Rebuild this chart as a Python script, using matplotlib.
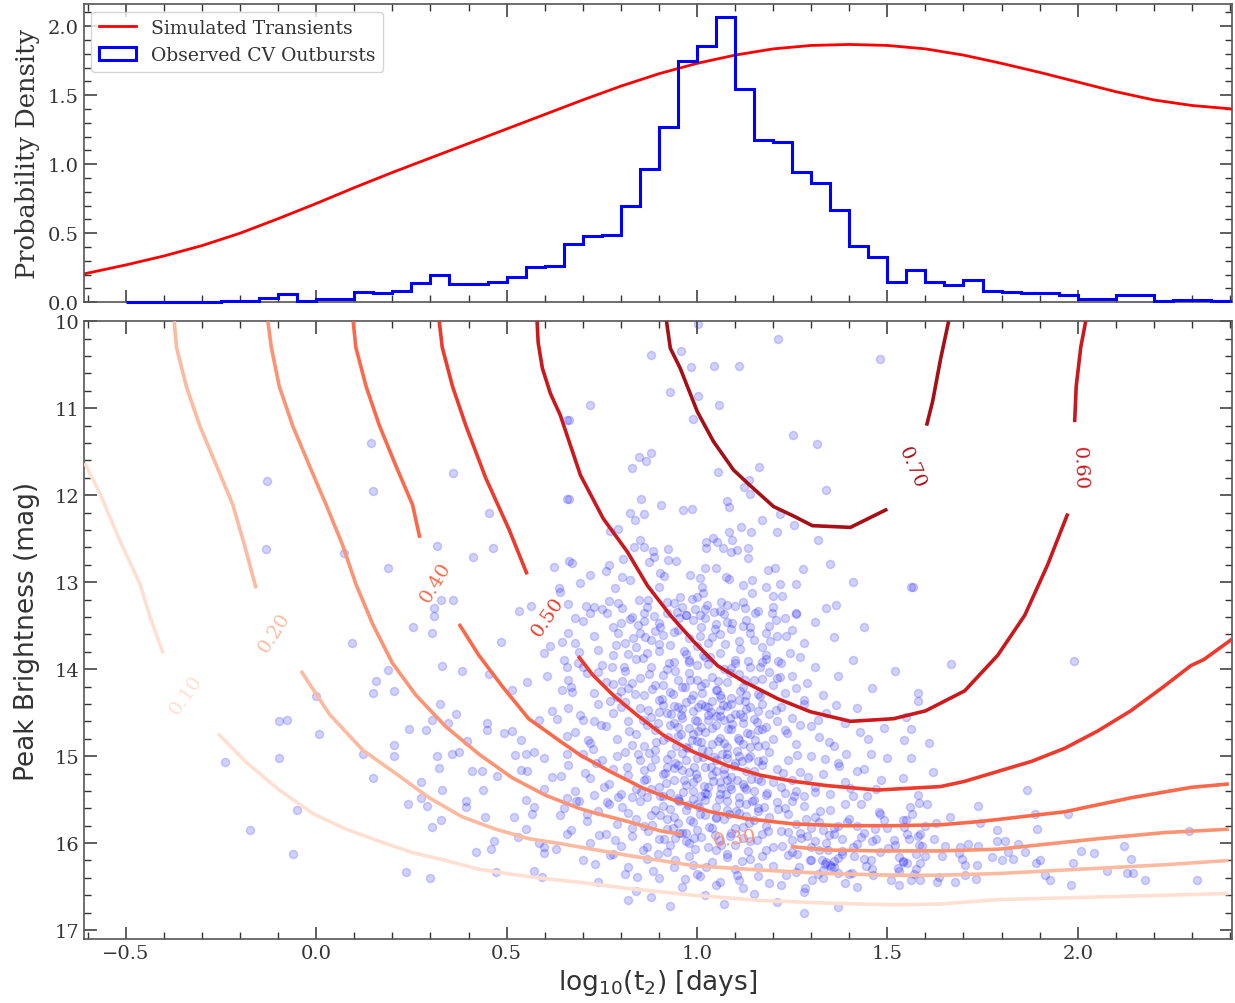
import numpy as np
import matplotlib
matplotlib.use("Agg")
import matplotlib.pyplot as plt
from matplotlib.ticker import MultipleLocator

plt.rcParams['font.family'] = ['DejaVu Serif']

# --- top panel data ---
sim_x = [-0.61, -0.5, -0.4, -0.3, -0.2, -0.1, 0.0, 0.1, 0.2, 0.3, 0.4, 0.5, 0.6, 0.7, 0.8,
         0.9, 1.0, 1.1, 1.2, 1.3, 1.4, 1.5, 1.6, 1.7, 1.8, 1.9, 2.0, 2.1, 2.2, 2.3, 2.405]
sim_y = [0.205, 0.27, 0.335, 0.41, 0.50, 0.605, 0.715, 0.83, 0.94, 1.045, 1.15, 1.255, 1.36,
         1.465, 1.565, 1.655, 1.73, 1.79, 1.835, 1.86, 1.867, 1.86, 1.835, 1.79, 1.73, 1.665,
         1.595, 1.525, 1.465, 1.425, 1.40]

hist_start = -0.5
hist_width = 0.05
hist_heights = [0.004, 0.004, 0.004, 0.004, 0.004,
                0.012, 0.012, 0.03, 0.058, 0.012, 0.024, 0.024, 0.075, 0.065, 0.08,
                0.14, 0.20, 0.13, 0.13, 0.15, 0.18, 0.256, 0.265, 0.42, 0.48,
                0.49, 0.695, 0.966, 1.27, 1.746, 1.857, 2.065, 1.546, 1.174, 1.164,
                0.946, 0.864, 0.667, 0.41, 0.33, 0.145, 0.234, 0.147, 0.128, 0.162,
                0.084, 0.075, 0.065, 0.065, 0.055, 0.024, 0.024, 0.05, 0.05, 0.01,
                0.017, 0.017, 0.01]

# --- contour lines (log t2, mag), split where labels sit ---
c10_a = [(-0.608, 11.63), (-0.568, 11.98), (-0.516, 12.52), (-0.463, 13.02), (-0.435, 13.42), (-0.402, 13.82)]
c10_b = [(-0.258, 14.74), (-0.184, 15.07), (-0.097, 15.39), (-0.009, 15.66), (0.078, 15.84), (0.166, 15.98),
         (0.253, 16.11), (0.340, 16.20), (0.427, 16.30), (0.515, 16.36), (0.602, 16.41), (0.690, 16.45),
         (0.816, 16.52), (0.991, 16.60), (1.167, 16.66), (1.342, 16.69), (1.517, 16.71), (1.640, 16.70),
         (1.791, 16.65), (2.052, 16.62), (2.396, 16.58)]
c20_a = [(-0.373, 10.0), (-0.367, 10.30), (-0.341, 10.75), (-0.306, 11.20), (-0.262, 11.66),
         (-0.219, 12.11), (-0.188, 12.58), (-0.158, 13.07)]
c20_b = [(-0.040, 14.02), (0.035, 14.52), (0.122, 14.93), (0.209, 15.20), (0.297, 15.48), (0.384, 15.70),
         (0.471, 15.84), (0.559, 15.95), (0.646, 16.01), (0.816, 16.14), (0.991, 16.26), (1.167, 16.31),
         (1.342, 16.35), (1.517, 16.37), (1.640, 16.37), (1.791, 16.35), (2.052, 16.29), (2.226, 16.25),
         (2.396, 16.20)]
c30_a = [(-0.127, 10.0), (-0.118, 10.30), (-0.097, 10.75), (-0.062, 11.20), (-0.018, 11.66), (0.026, 12.11),
         (0.069, 12.57), (0.104, 13.02), (0.148, 13.48), (0.200, 13.93), (0.262, 14.30), (0.340, 14.66),
         (0.428, 14.98), (0.515, 15.25), (0.602, 15.45), (0.690, 15.60), (0.728, 15.65), (0.817, 15.75),
         (0.904, 15.86), (0.961, 15.90)]
c30_b = [(1.246, 16.04), (1.343, 16.08), (1.474, 16.09), (1.640, 16.09), (1.792, 16.07), (2.053, 15.95),
         (2.226, 15.88), (2.397, 15.84)]
c40_a = [(0.097, 10.0), (0.104, 10.30), (0.131, 10.75), (0.166, 11.20), (0.209, 11.66), (0.253, 12.11),
         (0.272, 12.49)]
c40_b = [(0.375, 13.48), (0.427, 13.84), (0.489, 14.20), (0.558, 14.57), (0.641, 14.83), (0.694, 14.99),
         (0.773, 15.18), (0.859, 15.37), (0.948, 15.52), (1.035, 15.64), (1.132, 15.72), (1.253, 15.78),
         (1.385, 15.80), (1.516, 15.80), (1.640, 15.79), (1.748, 15.75), (1.966, 15.64), (2.139, 15.48),
         (2.297, 15.36), (2.397, 15.32)]
c50_a = [(0.323, 10.0), (0.331, 10.30), (0.358, 10.75), (0.393, 11.20), (0.445, 11.80), (0.506, 12.39),
         (0.554, 12.91)]
c50_b = [(0.688, 13.85), (0.727, 14.07), (0.780, 14.30), (0.843, 14.53), (0.912, 14.76), (0.990, 14.95),
         (1.080, 15.11), (1.167, 15.22), (1.254, 15.29), (1.343, 15.34), (1.474, 15.39), (1.640, 15.35),
         (1.703, 15.29), (1.879, 15.06), (1.966, 14.91), (2.053, 14.71), (2.139, 14.48), (2.226, 14.20),
         (2.297, 13.96), (2.331, 13.89), (2.407, 13.65)]
c60_a = [(0.580, 10.0), (0.583, 10.25), (0.594, 10.54), (0.615, 10.83), (0.641, 11.08), (0.694, 11.77),
         (0.754, 12.27), (0.817, 12.65), (0.870, 13.04), (0.930, 13.38), (0.991, 13.68), (1.054, 13.96),
         (1.122, 14.14), (1.212, 14.34), (1.298, 14.49), (1.403, 14.60), (1.516, 14.57), (1.600, 14.48),
         (1.703, 14.25), (1.790, 13.84), (1.861, 13.38), (1.921, 12.80), (1.974, 12.21)]
c60_b = [(1.992, 11.16), (1.996, 10.75), (2.008, 10.30), (2.021, 10.0)]
c70_a = [(0.920, 10.0), (0.930, 10.31), (0.956, 10.54), (1.001, 11.04), (1.043, 11.38), (1.096, 11.71),
         (1.140, 11.89), (1.201, 12.13), (1.254, 12.24), (1.303, 12.35), (1.403, 12.37), (1.500, 12.16)]
c70_b = [(1.603, 11.20), (1.619, 10.92), (1.640, 10.43), (1.661, 10.0)]

levels = [0.1, 0.2, 0.3, 0.4, 0.5, 0.6, 0.7]
label_x = [-0.341, -0.110, 1.100, 0.314, 0.607, 2.005, 1.563]
label_y = [14.29, 13.57, 15.95, 13.00, 13.39, 11.68, 11.68]
label_rot = [55, 57, 7, 59, 56, -88, -67]

# --- observed CV outbursts (log t2, mag) ---
pts_left = [(0.659, 11.14), (0.144, 11.40), (-0.129, 11.84), (0.148, 11.95), (0.359, 11.75), (0.659, 12.04),
            (0.454, 12.20), (-0.133, 12.62), (0.072, 12.67), (0.318, 12.58), (0.465, 12.61), (0.412, 12.71),
            (0.665, 12.76), (0.189, 12.84), (0.624, 12.83), (0.327, 13.20), (0.358, 13.20), (0.310, 13.30),
            (0.310, 13.39), (0.532, 13.33), (0.563, 13.27), (0.637, 13.07), (0.253, 13.52), (0.305, 13.58),
            (0.484, 13.69), (0.662, 13.59), (0.646, 13.69), (0.615, 13.73), (0.598, 13.81), (0.094, 13.70),
            (0.331, 13.96), (0.384, 14.02), (0.454, 14.06), (0.659, 13.98), (0.607, 14.08), (0.189, 14.01),
            (0.157, 14.14), (0.148, 14.27), (0.205, 14.25), (0.515, 14.24), (0.554, 14.15), (0.646, 14.24),
            (0.000, 14.31), (0.325, 14.40), (0.366, 14.51), (0.303, 14.59), (0.345, 14.62), (0.449, 14.62),
            (0.585, 14.59), (0.620, 14.48), (0.633, 14.57), (-0.097, 14.60), (-0.077, 14.59), (0.007, 14.74),
            (0.244, 14.69), (0.288, 14.70), (0.449, 14.70), (0.493, 14.73), (0.515, 14.71), (0.539, 14.82),
            (0.659, 14.77), (0.205, 14.87), (0.397, 14.83), (-0.099, 15.02), (-0.239, 15.07), (0.124, 14.98),
            (0.205, 15.00), (0.318, 15.00), (0.356, 14.97), (0.375, 14.95), (0.522, 14.99), (0.550, 14.97),
            (0.572, 14.95), (0.598, 15.02), (0.659, 14.97), (0.323, 15.14), (0.410, 15.17), (0.436, 15.17),
            (0.476, 15.23), (0.537, 15.16), (0.554, 15.17), (0.620, 15.24), (0.642, 15.23), (0.148, 15.25),
            (0.275, 15.30), (0.330, 15.39), (0.439, 15.39), (0.598, 15.38), (0.659, 15.48), (0.240, 15.55),
            (0.275, 15.48), (0.292, 15.57), (0.393, 15.52), (0.393, 15.58), (0.550, 15.51), (0.572, 15.59),
            (0.519, 15.70), (0.567, 15.67), (0.443, 15.70), (0.640, 15.68), (0.329, 15.73), (0.303, 15.81),
            (0.550, 15.84), (0.659, 15.89), (-0.050, 15.62), (-0.175, 15.85), (0.467, 15.98), (0.530, 15.93),
            (0.585, 16.00), (0.598, 16.04), (0.629, 16.07), (0.598, 16.11), (0.419, 16.10), (0.458, 16.07),
            (-0.062, 16.12), (0.235, 16.33), (0.298, 16.40), (0.473, 16.33), (0.572, 16.32), (0.593, 16.39)]

pts_top = [(1.004, 10.03), (1.213, 10.20), (1.480, 10.43), (0.879, 10.39), (0.959, 10.34), (0.985, 10.53),
           (1.046, 10.51), (1.111, 10.51), (0.928, 10.81), (1.004, 10.86), (1.058, 10.96), (0.720, 10.96),
           (0.663, 11.14), (0.990, 11.12), (1.252, 11.31), (1.316, 11.41), (0.849, 11.56), (0.879, 11.51),
           (0.867, 11.61), (0.829, 11.69), (1.054, 11.73), (1.164, 11.67), (1.137, 11.83), (1.123, 11.91),
           (1.138, 11.99), (1.338, 11.94), (0.663, 12.04), (0.853, 12.04), (0.906, 12.11), (0.962, 12.17),
           (0.987, 12.16), (1.079, 12.07), (1.083, 12.13), (0.825, 12.20), (0.860, 12.22), (0.838, 12.28),
           (1.171, 12.29), (1.217, 12.22), (1.254, 12.34), (1.115, 12.36), (1.141, 12.42), (1.210, 12.42),
           (1.083, 12.42), (0.792, 12.39), (0.771, 12.41), (1.042, 12.49), (1.053, 12.54), (1.024, 12.54),
           (1.092, 12.51), (1.318, 12.51), (0.851, 12.52), (0.860, 12.59), (0.834, 12.60), (0.884, 12.64),
           (0.924, 12.62), (1.024, 12.61), (1.069, 12.61), (1.090, 12.65), (1.105, 12.63), (1.134, 12.61),
           (1.133, 12.72), (0.807, 12.73), (0.873, 12.77), (0.886, 12.71), (0.924, 12.74), (0.945, 12.76),
           (0.672, 12.78), (0.770, 12.80), (0.761, 12.87), (1.020, 12.84), (1.049, 12.84), (1.186, 12.86),
           (1.206, 12.84), (1.278, 12.85), (1.349, 12.79), (1.410, 13.00), (1.567, 13.05), (0.720, 12.92),
           (0.803, 12.94), (0.825, 12.97), (0.902, 12.90), (0.913, 12.93), (0.981, 12.92), (1.009, 12.95),
           (1.075, 12.94), (1.083, 12.96), (1.145, 12.98), (1.121, 13.03), (0.693, 13.01), (0.784, 13.07),
           (0.901, 13.05), (1.013, 13.05), (1.016, 13.13), (1.145, 13.12), (1.180, 13.05), (1.217, 13.02),
           (1.259, 13.02), (1.199, 13.16), (1.224, 13.16), (1.365, 13.26), (0.709, 13.27), (0.730, 13.29),
           (0.792, 13.24), (0.849, 13.21), (0.871, 13.20), (0.921, 13.23), (0.956, 13.17), (0.987, 13.19),
           (1.000, 13.17), (1.027, 13.26), (1.044, 13.34), (1.062, 13.23), (1.079, 13.26), (1.121, 13.23),
           (1.127, 13.30), (1.197, 13.35), (1.259, 13.37), (0.680, 13.41), (0.803, 13.30), (0.860, 13.36),
           (0.948, 13.34), (0.970, 13.38), (1.009, 13.38), (0.641, 13.11)]

pts_core = [
    (0.66, 13.25), (0.70, 13.45), (0.73, 13.62), (0.75, 13.31), (0.78, 13.52), (0.81, 13.70), (0.83, 13.40),
    (0.85, 13.58), (0.87, 13.28), (0.88, 13.66), (0.90, 13.47), (0.92, 13.35), (0.93, 13.72), (0.95, 13.55),
    (0.96, 13.29), (0.98, 13.64), (0.99, 13.44), (1.01, 13.52), (1.02, 13.31), (1.03, 13.70), (1.05, 13.48),
    (1.06, 13.60), (1.07, 13.37), (1.09, 13.54), (1.10, 13.27), (1.11, 13.68), (1.13, 13.43), (1.14, 13.58),
    (1.16, 13.33), (1.17, 13.74), (1.19, 13.50), (1.21, 13.62), (1.23, 13.41), (1.25, 13.55), (1.28, 13.70),
    (1.31, 13.46), (1.36, 13.63), (1.44, 13.52), (0.68, 13.70), (0.77, 13.22), (0.89, 13.56), (0.97, 13.38),
    (1.04, 13.63), (1.12, 13.50), (1.20, 13.29), (0.72, 13.36), (0.84, 13.75), (0.94, 13.24), (1.00, 13.73),
    (1.08, 13.46), (1.15, 13.67), (1.26, 13.36), (0.80, 13.47), (0.91, 13.61), (1.18, 13.58), (1.02, 13.41),
    (0.86, 13.45), (1.34, 13.30),
    (0.65, 13.90), (0.67, 14.20), (0.69, 13.80), (0.71, 14.05), (0.73, 14.28), (0.75, 13.95), (0.76, 14.15),
    (0.78, 13.84), (0.79, 14.32), (0.81, 14.02), (0.82, 14.22), (0.84, 13.88), (0.85, 14.10), (0.86, 14.30),
    (0.88, 13.97), (0.89, 14.18), (0.90, 13.79), (0.91, 14.07), (0.93, 14.26), (0.94, 13.92), (0.95, 14.13),
    (0.97, 13.83), (0.98, 14.04), (0.99, 14.30), (1.00, 13.95), (1.01, 14.19), (1.02, 13.86), (1.04, 14.09),
    (1.05, 14.24), (1.06, 13.81), (1.07, 14.00), (1.08, 14.15), (1.09, 14.33), (1.10, 13.89), (1.11, 14.06),
    (1.12, 14.21), (1.14, 13.97), (1.15, 14.12), (1.16, 14.29), (1.18, 13.84), (1.19, 14.03), (1.20, 14.18),
    (1.22, 13.93), (1.23, 14.27), (1.25, 14.08), (1.27, 13.86), (1.29, 14.16), (1.31, 13.98), (1.33, 14.30),
    (1.37, 14.08), (1.41, 13.90), (1.46, 14.22), (1.52, 14.02), (1.58, 14.28), (0.66, 14.12), (0.74, 13.78),
    (0.83, 14.16), (0.92, 14.00), (0.96, 14.20), (1.03, 13.94), (1.13, 14.30), (1.21, 14.10), (0.87, 13.82),
    (1.00, 14.12), (1.06, 14.30), (1.17, 13.92), (0.80, 14.25), (0.70, 13.98), (1.26, 14.22), (0.98, 13.89),
    (1.09, 13.99),
    (0.66, 14.45), (0.68, 14.72), (0.70, 14.58), (0.72, 14.85), (0.74, 14.40), (0.76, 14.65), (0.78, 14.50),
    (0.79, 14.80), (0.81, 14.38), (0.82, 14.60), (0.84, 14.75), (0.85, 14.45), (0.86, 14.88), (0.88, 14.55),
    (0.89, 14.70), (0.90, 14.36), (0.91, 14.82), (0.92, 14.50), (0.93, 14.64), (0.94, 14.42), (0.95, 14.77),
    (0.96, 14.56), (0.97, 14.89), (0.97, 14.38), (0.98, 14.68), (0.99, 14.48), (1.00, 14.83), (1.00, 14.60),
    (1.01, 14.40), (1.02, 14.72), (1.03, 14.53), (1.04, 14.86), (1.04, 14.37), (1.05, 14.64), (1.06, 14.47),
    (1.06, 14.79), (1.07, 14.58), (1.08, 14.42), (1.08, 14.90), (1.09, 14.69), (1.10, 14.52), (1.11, 14.81),
    (1.11, 14.36), (1.12, 14.62), (1.13, 14.46), (1.14, 14.75), (1.15, 14.57), (1.16, 14.88), (1.17, 14.40),
    (1.18, 14.66), (1.19, 14.51), (1.20, 14.80), (1.22, 14.44), (1.23, 14.70), (1.25, 14.56), (1.26, 14.86),
    (1.28, 14.40), (1.30, 14.65), (1.32, 14.78), (1.34, 14.50), (1.36, 14.88), (1.39, 14.62), (1.42, 14.45),
    (1.45, 14.80), (1.49, 14.68), (1.55, 14.55), (1.61, 14.85), (0.99, 14.74), (1.03, 14.44), (1.07, 14.85),
    (1.12, 14.55), (0.94, 14.62), (1.09, 14.40), (1.01, 14.66), (1.14, 14.90), (0.87, 14.64), (1.21, 14.60),
    (0.83, 14.87), (1.05, 14.54), (0.96, 14.46), (1.16, 14.70), (1.27, 14.64), (0.73, 14.60),
    (0.66, 15.10), (0.68, 15.40), (0.70, 14.98), (0.72, 15.25), (0.73, 15.45), (0.75, 15.05), (0.77, 15.32),
    (0.78, 15.15), (0.80, 15.44), (0.81, 14.95), (0.82, 15.22), (0.84, 15.38), (0.85, 15.05), (0.86, 15.28),
    (0.87, 15.47), (0.88, 15.12), (0.89, 14.93), (0.90, 15.35), (0.91, 15.20), (0.92, 15.03), (0.93, 15.42),
    (0.94, 15.27), (0.95, 15.10), (0.95, 15.48), (0.96, 14.96), (0.97, 15.33), (0.98, 15.18), (0.99, 15.40),
    (1.00, 15.02), (1.00, 15.25), (1.01, 15.46), (1.02, 15.12), (1.03, 14.94), (1.03, 15.36), (1.04, 15.22),
    (1.05, 15.05), (1.06, 15.44), (1.06, 15.30), (1.07, 15.15), (1.08, 14.98), (1.09, 15.38), (1.09, 15.24),
    (1.10, 15.08), (1.11, 15.47), (1.12, 15.32), (1.13, 15.17), (1.14, 15.00), (1.15, 15.40), (1.16, 15.26),
    (1.17, 15.10), (1.18, 15.45), (1.19, 14.95), (1.20, 15.30), (1.21, 15.15), (1.23, 15.42), (1.24, 15.04),
    (1.25, 15.28), (1.27, 15.18), (1.28, 15.46), (1.30, 15.00), (1.31, 15.35), (1.33, 15.20), (1.35, 15.44),
    (1.37, 15.08), (1.39, 15.30), (1.41, 15.46), (1.44, 15.15), (1.47, 15.38), (1.50, 15.02), (1.54, 15.25),
    (1.58, 15.45), (1.62, 15.18), (0.79, 15.00), (0.83, 15.47), (0.97, 15.05), (1.02, 15.42), (1.08, 15.28),
    (1.13, 15.38), (0.91, 15.46), (1.05, 15.17), (1.11, 15.00), (0.94, 15.14), (1.22, 15.35), (0.99, 15.30),
    (1.16, 15.06), (1.26, 15.40), (0.86, 15.16),
    (0.65, 15.60), (0.67, 15.85), (0.69, 15.52), (0.71, 15.75), (0.72, 16.00), (0.74, 15.63), (0.76, 15.90),
    (0.77, 15.55), (0.79, 15.78), (0.80, 16.03), (0.82, 15.65), (0.83, 15.92), (0.85, 15.52), (0.86, 15.80),
    (0.87, 16.05), (0.88, 15.68), (0.90, 15.95), (0.91, 15.57), (0.92, 15.84), (0.93, 16.02), (0.94, 15.70),
    (0.95, 15.50), (0.96, 15.88), (0.97, 15.62), (0.98, 16.00), (0.99, 15.76), (1.00, 15.55), (1.01, 15.93),
    (1.02, 15.68), (1.03, 16.04), (1.04, 15.83), (1.05, 15.58), (1.06, 15.96), (1.07, 15.72), (1.08, 15.52),
    (1.09, 15.88), (1.10, 16.02), (1.11, 15.65), (1.12, 15.82), (1.13, 15.55), (1.14, 15.98), (1.15, 15.74),
    (1.16, 15.60), (1.17, 15.90), (1.19, 15.70), (1.20, 16.04), (1.21, 15.53), (1.22, 15.86), (1.24, 15.66),
    (1.25, 15.97), (1.26, 15.78), (1.28, 15.57), (1.29, 15.92), (1.30, 16.05), (1.31, 15.70), (1.33, 15.85),
    (1.34, 16.00), (1.35, 15.62), (1.37, 15.80), (1.38, 15.95), (1.40, 15.72), (1.41, 16.04), (1.43, 15.55),
    (1.44, 15.88), (1.46, 15.98), (1.48, 15.67), (1.50, 15.83), (1.52, 16.02), (1.54, 15.74), (1.56, 15.58),
    (1.58, 15.92), (1.60, 15.80), (0.89, 15.62), (0.95, 15.77), (1.00, 15.85), (1.05, 15.70), (1.12, 15.94),
    (1.18, 15.80), (1.23, 15.60), (1.27, 15.88), (1.32, 15.76), (1.36, 15.90), (1.42, 15.80), (0.84, 15.72),
    (0.97, 15.98), (1.08, 15.62), (1.15, 15.50), (1.30, 15.83), (1.39, 15.55), (1.47, 15.95), (1.02, 15.50),
    (0.92, 15.72),
    (0.70, 16.20), (0.74, 16.45), (0.78, 16.12), (0.81, 16.35), (0.84, 16.55), (0.87, 16.18), (0.90, 16.40),
    (0.92, 16.10), (0.94, 16.28), (0.96, 16.50), (0.98, 16.15), (1.00, 16.36), (1.02, 16.60), (1.04, 16.22),
    (1.06, 16.45), (1.08, 16.12), (1.10, 16.30), (1.12, 16.52), (1.14, 16.18), (1.16, 16.38), (1.18, 16.08),
    (1.20, 16.26), (1.22, 16.48), (1.24, 16.14), (1.26, 16.33), (1.28, 16.56), (1.30, 16.20), (1.32, 16.08),
    (1.33, 16.40), (1.35, 16.25), (1.36, 16.28), (1.38, 16.12), (1.40, 16.35), (1.42, 16.50), (1.44, 16.18),
    (1.46, 16.30), (1.48, 16.10), (1.51, 16.42), (1.54, 16.22), (1.57, 16.35), (1.60, 16.15), (1.63, 16.45),
    (0.88, 16.62), (1.05, 16.08), (1.15, 16.58), (1.34, 16.22), (1.37, 16.34), (0.99, 16.25), (1.11, 16.42),
    (1.25, 16.10), (0.93, 16.72), (1.07, 16.70), (1.21, 16.68), (1.37, 16.74), (0.82, 16.66), (1.28, 16.80)]

pts_dense = [
    (0.883, 14.23), (0.912, 14.41), (0.936, 14.29), (0.958, 14.53), (0.984, 14.34), (1.013, 14.27),
    (1.037, 14.49), (1.062, 14.33), (1.088, 14.56), (1.114, 14.25), (1.139, 14.44), (1.166, 14.31),
    (0.897, 14.62), (0.925, 14.78), (0.951, 14.67), (0.977, 14.91), (1.003, 14.71), (1.029, 14.59),
    (1.054, 14.83), (1.081, 14.69), (1.106, 14.94), (1.131, 14.73), (1.157, 14.61), (1.178, 14.87),
    (0.889, 15.03), (0.915, 15.19), (0.941, 15.08), (0.967, 15.27), (0.993, 15.13), (1.019, 15.34),
    (1.045, 15.01), (1.071, 15.21), (1.097, 15.11), (1.123, 15.36), (1.149, 15.17), (1.174, 15.04),
    (0.902, 15.46), (0.928, 15.61), (0.954, 15.52), (0.981, 15.73), (1.006, 15.58), (1.032, 15.81),
    (1.058, 15.49), (1.084, 15.66), (1.110, 15.54), (1.136, 15.77), (1.161, 15.63), (1.186, 15.86),
    (0.872, 14.47), (0.874, 14.96), (0.879, 15.38), (0.882, 15.79), (0.907, 14.34), (0.931, 14.51),
    (0.946, 14.88), (0.962, 15.41), (0.972, 15.88), (0.988, 14.81), (0.998, 15.21), (1.009, 15.67),
    (1.021, 14.42), (1.042, 15.29), (1.049, 15.71), (1.066, 14.98), (1.075, 15.44), (1.092, 14.63),
    (1.101, 15.83), (1.118, 15.06), (1.126, 14.37), (1.144, 15.52), (1.152, 14.82), (1.169, 15.29),
    (0.918, 15.31), (0.943, 15.94), (0.969, 14.21), (0.995, 14.58), (1.016, 15.01), (1.039, 14.68),
    (1.063, 15.37), (1.087, 15.92), (1.112, 14.51), (1.134, 15.02), (0.893, 14.84), (0.921, 15.12),
    (0.949, 14.43), (0.976, 15.56), (1.004, 14.44), (1.027, 15.43), (1.052, 14.24), (1.079, 15.02),
    (1.104, 15.28), (1.129, 15.69), (1.159, 14.48), (1.183, 15.42), (0.904, 15.68), (0.933, 14.97),
    (0.961, 15.16), (0.989, 15.49), (1.013, 14.92), (1.036, 15.12), (1.061, 14.54), (1.086, 15.34),
    (1.109, 14.79), (1.141, 15.26), (1.172, 14.69), (0.899, 14.49), (0.957, 14.74), (1.011, 14.84),
    (1.068, 14.41), (1.121, 14.86), (1.176, 15.58), (0.936, 15.83), (0.992, 15.94), (1.048, 15.91),
    (1.103, 15.63), (1.158, 15.96),
    (0.763, 13.36), (0.792, 13.58), (0.818, 13.83), (0.846, 13.49), (0.873, 14.06), (0.899, 13.71),
    (0.927, 13.93), (0.953, 13.41), (0.981, 14.12), (1.008, 13.62), (1.034, 13.86), (1.061, 13.33),
    (1.087, 14.04), (1.113, 13.77), (1.139, 13.52), (1.166, 13.97), (1.192, 13.68), (1.219, 14.09),
    (1.245, 13.81), (0.776, 13.97), (0.803, 14.14), (0.831, 13.64), (0.858, 13.87), (0.886, 13.39),
    (0.912, 14.18), (0.939, 13.57), (0.966, 13.79), (0.994, 13.31), (1.021, 14.16), (1.047, 13.54),
    (1.074, 13.71), (1.099, 13.93), (1.126, 14.13), (1.152, 13.35), (1.181, 13.88), (1.207, 13.44),
    (1.233, 13.62), (0.787, 13.72), (0.864, 13.63), (0.941, 14.02), (1.017, 13.84), (1.093, 13.47),
    (1.172, 14.11), (0.823, 13.42), (0.902, 13.52), (0.978, 13.92), (1.056, 14.14), (1.134, 13.91),
    (1.212, 13.91),
    (1.214, 15.61), (1.238, 15.87), (1.262, 16.13), (1.287, 15.72), (1.311, 15.98), (1.336, 16.24),
    (1.359, 15.83), (1.382, 16.09), (1.406, 16.34), (1.431, 15.93), (1.456, 16.19), (1.479, 15.64),
    (1.503, 16.06), (1.527, 16.29), (1.552, 15.89), (1.576, 16.13), (1.224, 16.03), (1.249, 15.52),
    (1.274, 15.94), (1.298, 16.19), (1.322, 15.63), (1.347, 15.91), (1.371, 16.17), (1.395, 15.76),
    (1.419, 16.01), (1.444, 16.26), (1.468, 15.84), (1.492, 15.73), (1.517, 15.97), (1.541, 16.21),
    (1.566, 15.67), (1.591, 16.03), (1.331, 16.31), (1.344, 16.08), (1.352, 16.27), (1.329, 16.19),
    (1.361, 16.21), (1.318, 16.36), (1.267, 16.27), (1.301, 16.43), (1.388, 16.46), (1.412, 16.15),
    (1.462, 16.37), (1.235, 16.37), (1.283, 16.52),
    (0.712, 15.66), (0.743, 15.91), (0.771, 16.14), (0.802, 15.58), (0.829, 15.83), (0.857, 16.08),
    (0.884, 16.32), (0.913, 15.95), (0.941, 16.19), (0.968, 16.41), (0.996, 16.07), (1.024, 16.27),
    (1.051, 16.48), (1.079, 16.16), (1.106, 16.37), (1.133, 16.09), (1.161, 16.28), (1.188, 16.46),
    (0.731, 16.24), (0.786, 15.96), (0.843, 16.39), (0.897, 16.12), (0.952, 15.88), (1.007, 16.38),
    (1.062, 16.02), (1.117, 16.21), (1.172, 16.15), (0.763, 15.53), (0.818, 16.28), (0.871, 15.86),
    (0.672, 14.26), (0.693, 14.53), (0.714, 14.81), (0.736, 15.08), (0.757, 15.36), (0.779, 14.17),
    (0.801, 14.44), (0.822, 14.71), (0.844, 14.98), (0.866, 15.26), (0.683, 15.52), (0.705, 15.19),
    (0.727, 14.92), (0.749, 14.64), (0.771, 14.37), (0.793, 15.47), (0.815, 15.13), (0.836, 14.29),
    (0.858, 14.58), (0.687, 13.93), (0.741, 14.03), (0.809, 13.97), (0.853, 15.41),
    (1.208, 14.47), (1.236, 14.73), (1.263, 14.99), (1.291, 15.24), (1.318, 14.58), (1.346, 14.84),
    (1.373, 15.11), (1.401, 15.37), (1.428, 14.72), (1.456, 14.98), (1.483, 15.27), (1.227, 15.19),
    (1.254, 15.46), (1.282, 14.35), (1.309, 15.41), (1.337, 15.03), (1.364, 14.41), (1.392, 14.97),
    (1.419, 15.17), (1.447, 15.46)]

pts_right = [(1.563, 13.05), (1.668, 13.94), (1.989, 13.91), (1.581, 14.37), (1.563, 14.69), (1.543, 14.82),
             (1.563, 15.02), (1.868, 15.39), (1.584, 15.54), (1.604, 15.55), (1.737, 15.57), (1.665, 15.70),
             (1.887, 15.66), (1.974, 15.67), (1.548, 15.73), (1.543, 15.82), (1.743, 15.77), (1.629, 15.77),
             (1.587, 15.89), (1.622, 15.95), (1.557, 15.95), (1.789, 15.85), (1.893, 15.84), (1.789, 15.98),
             (1.809, 15.98), (1.583, 16.02), (1.652, 16.03), (1.691, 16.05), (1.713, 16.01), (1.739, 16.03),
             (1.842, 16.01), (1.861, 16.10), (2.009, 16.09), (2.043, 16.11), (2.122, 16.03), (2.291, 15.86),
             (1.530, 16.16), (1.552, 16.23), (1.574, 16.30), (1.587, 16.23), (1.643, 16.15), (1.687, 16.11),
             (1.696, 16.18), (1.704, 16.25), (1.735, 16.25), (1.774, 16.16), (1.800, 16.20), (1.830, 16.18),
             (1.817, 16.10), (1.891, 16.23), (1.900, 16.20), (1.987, 16.23), (1.913, 16.37), (1.926, 16.43),
             (1.983, 16.48), (2.078, 16.32), (2.139, 16.18), (2.146, 16.34), (2.130, 16.34), (2.178, 16.43),
             (2.313, 16.43), (1.561, 16.42), (1.587, 16.42), (1.635, 16.39), (1.678, 16.45), (1.704, 16.37),
             (1.732, 16.41), (1.530, 16.32), (1.530, 16.48)]

# --- figure ---
fig = plt.figure(figsize=(12.35, 10.04), dpi=100)
ax1 = fig.add_axes([0.068, 0.698, 0.9295, 0.297])
ax2 = fig.add_axes([0.068, 0.064, 0.9295, 0.615])

text_col = '#333333'
xlim = (-0.61, 2.405)

# top panel
edges = hist_start + hist_width * np.arange(len(hist_heights) + 1)
ax1.plot(sim_x, sim_y, color='red', lw=2, label='Simulated Transients')
ax1.hist(edges[:-1], bins=edges, weights=hist_heights, histtype='step', color='blue', lw=2.2,
         label='Observed CV Outbursts', zorder=3, clip_on=False)
ax1.set_xlim(*xlim)
ax1.set_ylim(0, 2.16)
ax1.set_ylabel('Probability Density', fontsize=18.5, color=text_col, labelpad=6)
ax1.yaxis.set_major_locator(MultipleLocator(0.5))
ax1.yaxis.set_minor_locator(MultipleLocator(0.1))
ax1.xaxis.set_major_locator(MultipleLocator(0.5))
ax1.xaxis.set_minor_locator(MultipleLocator(0.1))
ax1.tick_params(labelbottom=False)
leg = ax1.legend(loc='upper left', fontsize=13.5, handlelength=2, borderaxespad=0.4)
for t in leg.get_texts():
    t.set_color(text_col)

# bottom panel
cmap = plt.get_cmap('Reds')
allpts = np.array(pts_left + pts_top + pts_core + pts_dense + pts_right)
ax2.scatter(allpts[:, 0], allpts[:, 1], s=34, color='blue', alpha=0.18, zorder=1)

contour_segments = [(c10_a, c10_b), (c20_a, c20_b), (c30_a, c30_b), (c40_a, c40_b),
                    (c50_a, c50_b), (c60_a, c60_b), (c70_a, c70_b)]
for lev, segs, lx, ly, rot in zip(levels, contour_segments, label_x, label_y, label_rot):
    col = cmap(lev / 0.8)
    for seg in segs:
        arr = np.array(seg)
        ax2.plot(arr[:, 0], arr[:, 1], color=col, lw=2.6, zorder=3, solid_capstyle='butt')
    ax2.text(lx, ly, f'{lev:.2f}', color=col, fontsize=14, rotation=rot, ha='center', va='center',
             rotation_mode='anchor', zorder=4)

ax2.set_xlim(*xlim)
ax2.set_ylim(17.1, 10)
ax2.xaxis.set_major_locator(MultipleLocator(0.5))
ax2.xaxis.set_minor_locator(MultipleLocator(0.1))
ax2.yaxis.set_major_locator(MultipleLocator(1))
ax2.yaxis.set_minor_locator(MultipleLocator(0.2))
ax2.set_xlabel(r'log$_{10}$(t$_2$) [days]', fontsize=19, family='DejaVu Sans', color=text_col, labelpad=4)
ax2.set_ylabel('Peak Brightness (mag)', fontsize=19, family='DejaVu Sans', color=text_col, labelpad=10)

for ax in (ax1, ax2):
    ax.tick_params(which='both', direction='in', top=True, right=True, colors=text_col, labelsize=14)
    ax.tick_params(which='major', length=9, width=1.1)
    ax.tick_params(which='minor', length=5, width=1.0)
    for sp in ax.spines.values():
        sp.set_color('#555555')
        sp.set_linewidth(1.2)

fig.savefig('out.png', dpi=100)
